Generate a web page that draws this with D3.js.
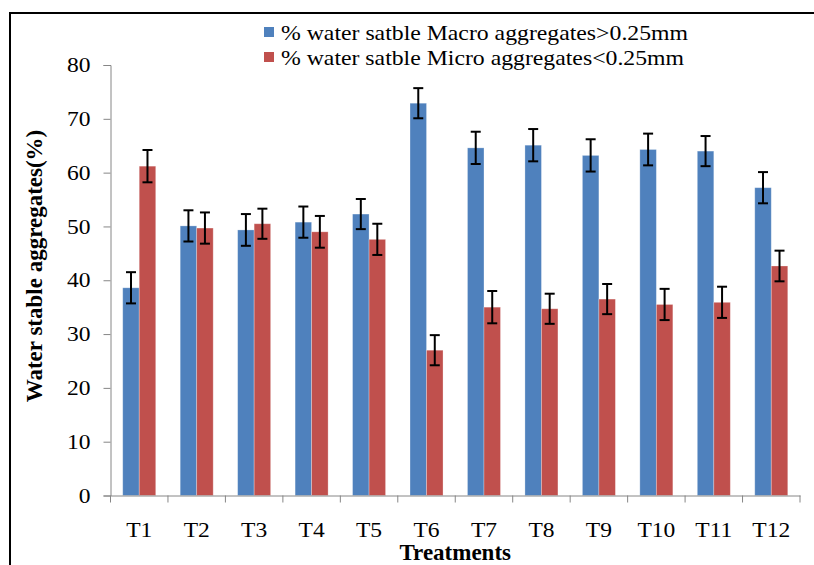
<!DOCTYPE html>
<meta charset="utf-8">
<html>
  <head>
    <script src="https://d3js.org/d3.v7.min.js"></script>
    <style>
      body { margin: 0; background: white; }
      svg text { font-family: "Liberation Serif", "Times New Roman", serif; fill: #000; }
    </style>
  </head>
  <body>
    <div id="chart"></div>
    <script>
      // data
      const treatments = ["T1", "T2", "T3", "T4", "T5", "T6", "T7", "T8", "T9", "T10", "T11", "T12"];
      const macroValues = [38.6, 50.1, 49.35, 50.8, 52.3, 72.9, 64.6, 65.1, 63.2, 64.3, 64.0, 57.2];
      const macroErrors = [2.9, 2.9, 2.95, 2.9, 2.8, 2.8, 3.0, 3.0, 3.0, 2.95, 2.8, 2.9];
      const microValues = [61.2, 49.7, 50.5, 49.0, 47.6, 27.0, 35.0, 34.7, 36.5, 35.5, 35.9, 42.65];
      const microErrors = [3.0, 2.9, 2.8, 2.95, 2.9, 2.8, 3.0, 2.8, 2.8, 2.9, 2.9, 2.85];
      const yTicks = [0, 10, 20, 30, 40, 50, 60, 70, 80];
      const seriesNames = ["% water satble Macro aggregates>0.25mm", "% water satble Micro aggregates<0.25mm"];
      const seriesKeys = ["macro", "micro"];
      const colors = {macro: "#4F81BD", micro: "#C0504D"};

      const width = 814, height = 565;
      const margin = {top: 65, right: 14, bottom: 69.5, left: 110.5};

      const svg = d3.select("#chart").append("svg")
        .attr("width", width)
        .attr("height", height);

      // outer frame (only left and top show)
      svg.append("path")
        .attr("d", `M10,${height} L10,13 L${width},13`)
        .attr("fill", "none")
        .attr("stroke", "#000")
        .attr("stroke-width", 2);

      const x = d3.scaleBand()
        .domain(treatments)
        .range([margin.left, width - margin.right]);

      const barW = 16.5;
      const x1 = d3.scaleBand()
        .domain(seriesKeys)
        .range([x.bandwidth() / 2 - barW, x.bandwidth() / 2 + barW]);

      const y = d3.scaleLinear()
        .domain([0, 80])
        .range([height - margin.bottom, margin.top]);

      const rows = treatments.map((t, i) => ({
        t: t,
        macro: macroValues[i], macroErr: macroErrors[i],
        micro: microValues[i], microErr: microErrors[i]
      }));

      // y axis
      const yAxis = svg.append("g")
        .attr("transform", `translate(${margin.left},0)`)
        .call(d3.axisLeft(y).tickValues(yTicks).tickSize(7).tickPadding(13));
      yAxis.select(".domain").attr("stroke", "#868686");
      yAxis.selectAll(".tick line").attr("stroke", "#868686");
      yAxis.selectAll(".tick text").attr("font-size", 21).attr("font-family", "Liberation Serif, serif");

      // bars
      const groups = svg.append("g").selectAll("g")
        .data(rows)
        .join("g")
        .attr("transform", d => `translate(${x(d.t)},0)`);

      seriesKeys.forEach(k => {
        groups.append("rect")
          .attr("x", x1(k))
          .attr("width", x1.bandwidth())
          .attr("y", d => y(d[k]))
          .attr("height", d => y(0) - y(d[k]))
          .attr("fill", colors[k])
          .attr("stroke", "rgba(255,255,255,0.35)")
          .attr("stroke-width", 0.8);
      });

      // error bars
      seriesKeys.forEach(k => {
        const cx = x1(k) + x1.bandwidth() / 2;
        const eb = groups.append("g").attr("stroke", "#000").attr("stroke-width", 2);
        eb.append("line")
          .attr("x1", cx).attr("x2", cx)
          .attr("y1", d => y(d[k] + d[k + "Err"]))
          .attr("y2", d => y(d[k] - d[k + "Err"]));
        eb.append("line")
          .attr("x1", cx - 5).attr("x2", cx + 5)
          .attr("y1", d => y(d[k] + d[k + "Err"]))
          .attr("y2", d => y(d[k] + d[k + "Err"]));
        eb.append("line")
          .attr("x1", cx - 5).attr("x2", cx + 5)
          .attr("y1", d => y(d[k] - d[k + "Err"]))
          .attr("y2", d => y(d[k] - d[k + "Err"]));
      });

      // x axis
      const xAxis = svg.append("g")
        .attr("transform", `translate(0,${y(0)})`)
        .call(d3.axisBottom(x).tickSize(0).tickPadding(27));
      xAxis.select(".domain").attr("stroke", "#868686");
      xAxis.selectAll(".tick text").attr("font-size", 21).attr("font-family", "Liberation Serif, serif");
      // category separators
      xAxis.selectAll(".sep")
        .data(treatments.concat(["end"]))
        .join("line")
        .attr("x1", (d, i) => i < treatments.length ? x(d) : x.range()[1])
        .attr("x2", (d, i) => i < treatments.length ? x(d) : x.range()[1])
        .attr("y1", 0).attr("y2", 7)
        .attr("stroke", "#868686");

      // stretch tick labels a bit horizontally like the original
      svg.selectAll(".tick text").each(function () {
        const w = this.getComputedTextLength();
        d3.select(this).attr("textLength", w * 1.12).attr("lengthAdjust", "spacingAndGlyphs");
      });

      // axis titles
      svg.append("text")
        .attr("x", (x.range()[0] + x.range()[1]) / 2)
        .attr("y", 560)
        .attr("text-anchor", "middle")
        .attr("font-size", 23)
        .attr("font-weight", "bold")
        .text("Treatments");

      svg.append("text")
        .attr("transform", "translate(42,266) rotate(-90)")
        .attr("text-anchor", "middle")
        .attr("font-size", 23)
        .attr("font-weight", "bold")
        .text("Water stable aggregates(%)");

      // legend
      const legend = svg.append("g").attr("transform", "translate(264,27)");
      const legendWidths = [407, 403];
      seriesKeys.forEach((k, i) => {
        const row = legend.append("g").attr("transform", `translate(0,${i * 25})`);
        row.append("rect")
          .attr("width", 10).attr("height", 10)
          .attr("fill", colors[k]);
        row.append("text")
          .attr("x", 17).attr("y", 13)
          .attr("font-size", 21)
          .attr("textLength", legendWidths[i])
          .attr("lengthAdjust", "spacingAndGlyphs")
          .text(seriesNames[i]);
      });
    </script>
  </body>
</html>
